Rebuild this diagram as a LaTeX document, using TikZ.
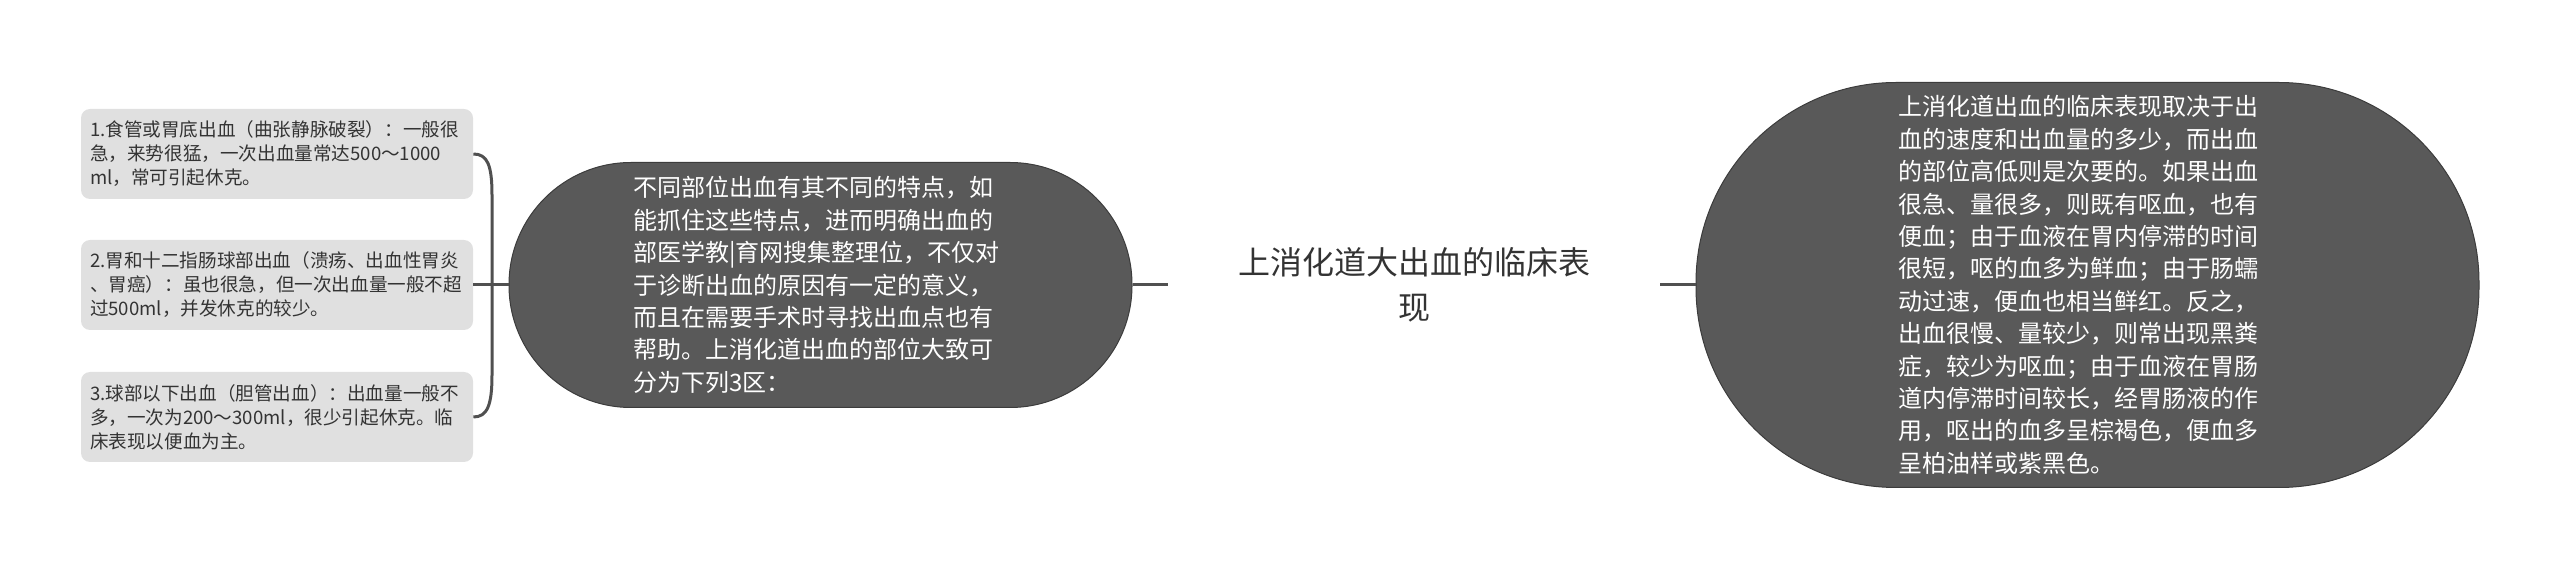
\documentclass[tikz,border=0pt]{standalone}
\usepackage{fontspec}
\setmainfont{Noto Sans CJK SC}
\definecolor{pillfill}{HTML}{595959}
\definecolor{pillline}{HTML}{3C3C3C}
\definecolor{boxfill}{HTML}{E0E0E0}
\definecolor{conncol}{HTML}{505050}
\definecolor{txt}{HTML}{333333}
\tikzset{
  conn/.style={draw=conncol, line width=1.5pt},
  leafbox/.style={rectangle, fill=boxfill, rounded corners=4.5pt, minimum width=196pt, minimum height=45pt,
    text width=187pt, align=left, inner sep=0pt, text=txt,
    font=\fontsize{9.3pt}{12pt}\selectfont},
  pillbox/.style={rectangle, fill=pillfill, draw=pillline, line width=0.5pt, text=white, align=left,
    font=\fontsize{12pt}{16.2pt}\selectfont, inner sep=0pt},
  topic/.style={rectangle, minimum width=246pt, minimum height=60pt, align=center, text=txt,
    font=\fontsize{16pt}{22.5pt}\selectfont, inner sep=0pt}
}
\begin{document}
\begin{tikzpicture}[x=0.5pt, y=-0.5pt]
\useasboundingbox (0,0) rectangle (2560,571);
% left leaves
\node[leafbox] (b1) at (277,154) {1.食管或胃底出血（曲张静脉破裂）：一般很\\急，来势很猛，一次出血量常达500～1000\\ml，常可引起休克。};
\node[leafbox] (b2) at (277,285) {2.胃和十二指肠球部出血（溃疡、出血性胃炎\\、胃癌）：虽也很急，但一次出血量一般不超\\过500ml，并发休克的较少。};
\node[leafbox] (b3) at (277,417) {3.球部以下出血（胆管出血）：出血量一般不\\多，一次为200～300ml，很少引起休克。临\\床表现以便血为主。};
% left pill
\node[pillbox, minimum width=311.5pt, minimum height=122.5pt, rounded corners=61pt, text width=181pt] (p1) at (820.5,285)
{\hspace*{-3pt}\parbox{181pt}{不同部位出血有其不同的特点，如\\能抓住这些特点，进而明确出血的\\部医学教|育网搜集整理位，不仅对\\于诊断出血的原因有一定的意义，\\而且在需要手术时寻找出血点也有\\帮助。上消化道出血的部位大致可\\分为下列3区：}};
% central topic
\node[topic] (c) at (1414,285) {上消化道大出血的临床表\\现};
% right pill
\node[pillbox, minimum width=391.5pt, minimum height=202.5pt, rounded corners=100pt, text width=181pt] (p2) at (2087.5,285)
{\hspace*{-4pt}\parbox{181pt}{上消化道出血的临床表现取决于出\\血的速度和出血量的多少，而出血\\的部位高低则是次要的。如果出血\\很急、量很多，则既有呕血，也有\\便血；由于血液在胃内停滞的时间\\很短，呕的血多为鲜血；由于肠蠕\\动过速，便血也相当鲜红。反之，\\出血很慢、量较少，则常出现黑粪\\症，较少为呕血；由于血液在胃肠\\道内停滞时间较长，经胃肠液的作\\用，呕出的血多呈棕褐色，便血多\\呈柏油样或紫黑色。}};
% connectors
\draw[conn] (b1.east) .. controls +(14,0) and (492,165) .. (492,195) -- (492,375) .. controls (492,405) and +(14,0) .. (b3.east);
\draw[conn] (b2.east) -- (p1.west);
\draw[conn] (p1.east) -- (c.west);
\draw[conn] (c.east) -- (p2.west);
\end{tikzpicture}
\end{document}
